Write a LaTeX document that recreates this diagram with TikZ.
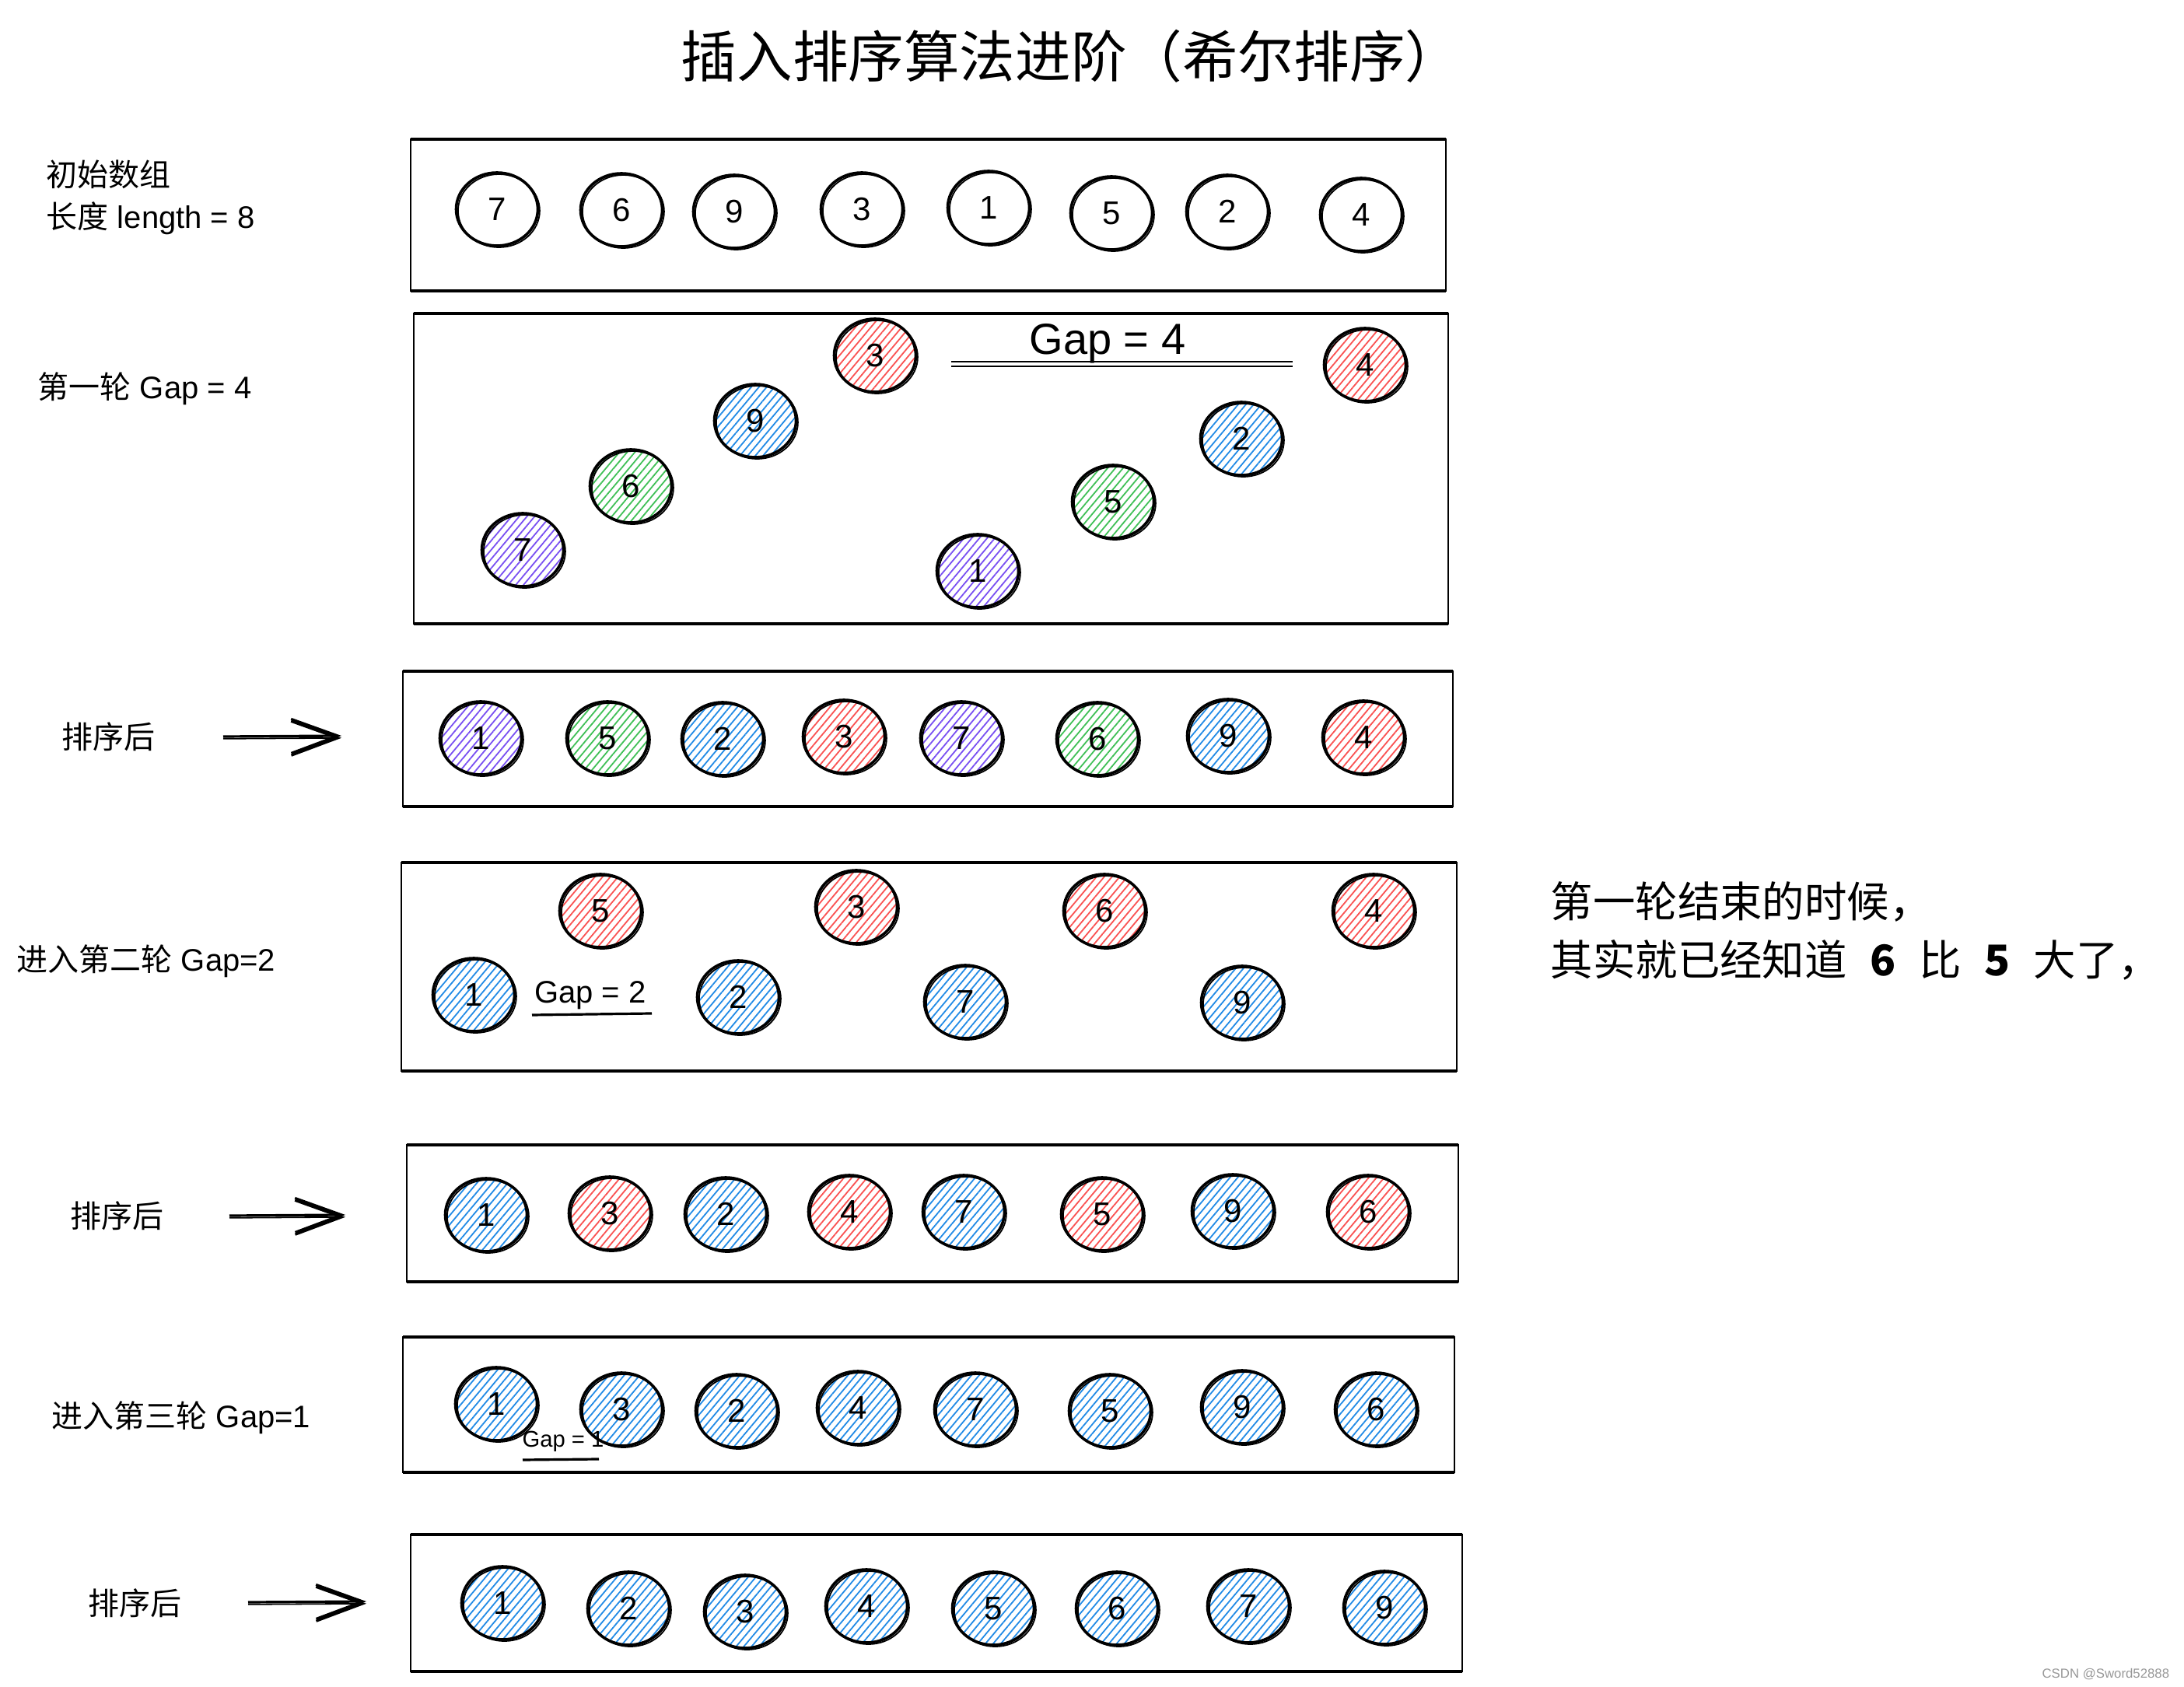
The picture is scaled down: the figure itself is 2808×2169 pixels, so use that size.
\documentclass[tikz,border=0pt]{standalone}
\usepackage{fontspec}
\setmainfont{Liberation Sans}
\newfontfamily\cjk{Noto Sans CJK SC}
\usetikzlibrary{shapes.geometric,patterns.meta,arrows.meta}
\definecolor{hred}{HTML}{FA5252}
\definecolor{hblue}{HTML}{228BE6}
\definecolor{hgreen}{HTML}{40C057}
\definecolor{hviolet}{HTML}{7950F2}
\tikzset{
  plainball/.style={ellipse, draw, line width=0.9pt, minimum width=26.25pt, minimum height=23.5pt,
    inner sep=0pt, font=\fontsize{10.5}{12}\selectfont,
    postaction={draw, line width=0.45pt, transform canvas={xshift=0.6pt,yshift=-0.5pt}}},
  ball/.style={plainball, pattern={Lines[angle=50,distance=1.9pt,line width=0.45pt]}, pattern color=#1},
  frame/.style={line width=0.6pt},
  frameedge/.style={line width=1.1pt},
  lbl/.style={anchor=west, inner sep=0pt, font=\fontsize{10}{12}\selectfont},
  sketcharrow/.style={line width=0.8pt, -{Straight Barb[length=15pt,width=11pt,line width=0.8pt]},
    postaction={draw, line width=0.45pt, transform canvas={yshift=-0.7pt}}},
  gapline/.style={line width=0.8pt}
}
\begin{document}
\begin{tikzpicture}[x=0.25pt,y=-0.25pt]
\useasboundingbox (0,0) rectangle (2808,2169);
\fill[white] (0,0) rectangle (2808,2169);

% title
\node[font=\fontsize{17.9}{20}\selectfont\cjk] (title) at (1377,72) {插入排序算法进阶（希尔排序）};

% boxes
\foreach \xa/\ya/\xb/\yb in {528/179/1859/374, 532/403/1862/802, 518/863/1868/1037,
  516/1109/1873/1377, 523/1472/1875/1648, 518/1719/1870/1893, 528/1973/1880/2149}{
  \draw[frame] (\xa,\ya) rectangle (\xb,\yb);
  \draw[frameedge] (\xa,\ya) -- (\xb,\ya);
  \draw[frameedge] (\xa,\yb) -- (\xb,\yb);
}

% left labels
\node[lbl] (l1a) at (59,224) {\cjk 初始数组};
\node[lbl] (l1b) at (59,281) {{\cjk 长度} length = 8};
\node[lbl] (l2) at (48,500) {{\cjk 第一轮} Gap = 4};
\node[lbl] (l3) at (79,947) {\cjk 排序后};
\node[lbl] (l4) at (21,1236) {{\cjk 进入第二轮} Gap=2};
\node[lbl] (l5) at (90,1563) {\cjk 排序后};
\node[lbl] (l6) at (66,1823) {{\cjk 进入第三轮} Gap=1};
\node[lbl] (l7) at (113,2061) {\cjk 排序后};

% arrows
\coordinate (a3s) at (287,947); \coordinate (a3e) at (439,946);
\coordinate (a5s) at (295,1563); \coordinate (a5e) at (444,1562);
\coordinate (a7s) at (319,2060); \coordinate (a7e) at (471,2059);
\draw[sketcharrow] (a3s) -- (a3e);
\draw[sketcharrow] (a5s) -- (a5e);
\draw[sketcharrow] (a7s) -- (a7e);

% row 1: initial array
\foreach \n/\x/\y/\t in {1/639/269/7, 2/799/270/6, 3/944/272/9, 4/1108/269/3,
  5/1271/267/1, 6/1429/274/5, 7/1578/272/2, 8/1750/276/4}{
  \node[plainball] (r1n\n) at (\x,\y) {\t};
}

% row 2: gap = 4 groups
\foreach \n/\x/\y/\t/\c in {1/672/707/7/hviolet, 2/811/625/6/hgreen, 3/971/541/9/hblue,
  4/1125/457/3/hred, 5/1257/734/1/hviolet, 6/1431/645/5/hgreen, 7/1596/564/2/hblue, 8/1755/469/4/hred}{
  \node[ball=\c] (r2n\n) at (\x,\y) {\t};
}
\node[font=\fontsize{14}{16}\selectfont] (gap4) at (1424,442) {Gap = 4};
\coordinate (g4a) at (1223,465); \coordinate (g4b) at (1662,465);
\coordinate (g4c) at (1223,471); \coordinate (g4d) at (1662,471);
\draw[line width=0.6pt] (g4a) -- (g4b);
\draw[line width=0.6pt] (g4c) -- (g4d);

% row 3: after first pass
\foreach \n/\x/\y/\t/\c in {1/618/949/1/hviolet, 2/781/949/5/hgreen, 3/929/950/2/hblue,
  4/1085/947/3/hred, 5/1236/949/7/hviolet, 6/1411/950/6/hgreen, 7/1579/946/9/hblue, 8/1753/948/4/hred}{
  \node[ball=\c] (r3n\n) at (\x,\y) {\t};
}

% row 4: gap = 2 groups
\foreach \n/\x/\y/\t/\c in {1/609/1279/1/hblue, 2/772/1171/5/hred, 3/949/1282/2/hblue,
  4/1101/1166/3/hred, 5/1241/1288/7/hblue, 6/1420/1171/6/hred, 7/1597/1289/9/hblue, 8/1766/1171/4/hred}{
  \node[ball=\c] (r4n\n) at (\x,\y) {\t};
}
\node[font=\fontsize{10}{12}\selectfont] (gap2) at (759,1280) {Gap = 2};
\coordinate (g2a) at (684,1305); \coordinate (g2b) at (838,1303);
\draw[gapline] (g2a) -- (g2b);

% right note
\node[anchor=west, inner sep=0pt, font=\fontsize{13.6}{16}\selectfont\cjk] (note1) at (1993,1159) {第一轮结束的时候，};
\node[anchor=west, inner sep=0pt, font=\fontsize{13.6}{16}\selectfont\cjk] (note2) at (1993,1234)
  {其实就已经知道\hspace*{0.55em}\textbf{6}\hspace*{0.55em}比\hspace*{0.55em}\textbf{5}\hspace*{0.55em}大了，};

% row 5: after second pass
\foreach \n/\x/\y/\t/\c in {1/625/1562/1/hblue, 2/784/1560/3/hred, 3/933/1561/2/hblue,
  4/1092/1558/4/hred, 5/1239/1558/7/hblue, 6/1417/1561/5/hred, 7/1585/1557/9/hblue, 8/1759/1558/6/hred}{
  \node[ball=\c] (r5n\n) at (\x,\y) {\t};
}

% row 6: gap = 1
\foreach \n/\x/\y/\t in {1/638/1805/1, 2/799/1812/3, 3/947/1814/2, 4/1103/1810/4,
  5/1254/1812/7, 6/1427/1814/5, 7/1597/1809/9, 8/1769/1812/6}{
  \node[ball=hblue] (r6n\n) at (\x,\y) {\t};
}
\node[font=\fontsize{7.3}{9}\selectfont] (gap1) at (724,1853) {Gap = 1};
\coordinate (g1a) at (672,1877); \coordinate (g1b) at (770,1876);
\draw[gapline] (g1a) -- (g1b);

% row 7: sorted
\foreach \n/\x/\y/\t in {1/646/2061/1, 2/808/2068/2, 3/958/2072/3, 4/1114/2065/4,
  5/1277/2068/5, 6/1436/2068/6, 7/1605/2065/7, 8/1780/2067/9}{
  \node[ball=hblue] (r7n\n) at (\x,\y) {\t};
}

% watermark
\node[anchor=east, inner sep=0pt, text=gray!80, font=\fontsize{4.2}{5}\selectfont] (wm) at (2790,2153) {CSDN @Sword52888};
\end{tikzpicture}
\end{document}
